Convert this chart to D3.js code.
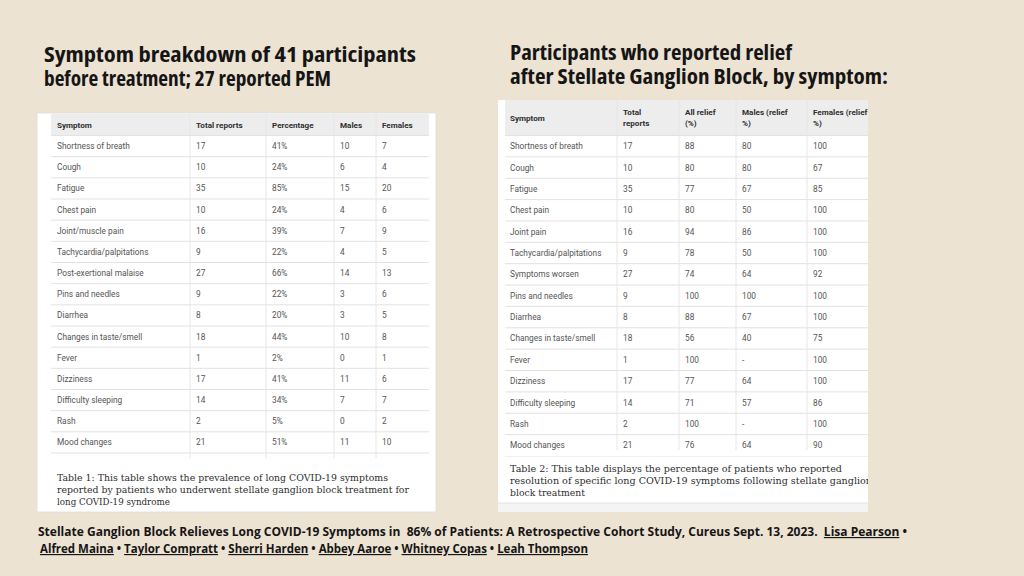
<!DOCTYPE html>
<html>
<head>
<meta charset="utf-8">
<script src="https://cdn.jsdelivr.net/npm/d3@7"></script>
<style>
  html, body { margin: 0; padding: 0; background: #ede3d3; }
  svg { display: block; }
  .cell { font-family: Roboto, "Noto Sans", sans-serif; font-size: 8.3px; fill: #555; }
  .head { font-family: Roboto, "Noto Sans", sans-serif; font-size: 8.1px; font-weight: 700; fill: #2e2e2e; }
  .caption { font-family: "DejaVu Serif", serif; font-size: 8.8px; fill: #2e2e2e; }
  .title { font-family: "Open Sans", sans-serif; font-stretch: 82%; font-weight: 700; font-size: 21px; fill: #151515; }
  .foot { font-family: "Open Sans", sans-serif; font-weight: 700; font-size: 11.6px; fill: #151515; }
</style>
</head>
<body>
<script>
// Table 1: symptoms before treatment
const symptoms1 = ['Shortness of breath', 'Cough', 'Fatigue', 'Chest pain', 'Joint/muscle pain',
  'Tachycardia/palpitations', 'Post-exertional malaise', 'Pins and needles', 'Diarrhea',
  'Changes in taste/smell', 'Fever', 'Dizziness', 'Difficulty sleeping', 'Rash', 'Mood changes'];
const totals1 = [17, 10, 35, 10, 16, 9, 27, 9, 8, 18, 1, 17, 14, 2, 21];
const percent1 = ['41%', '24%', '85%', '24%', '39%', '22%', '66%', '22%', '20%', '44%', '2%', '41%', '34%', '5%', '51%'];
const males1 = [10, 6, 15, 4, 7, 4, 14, 3, 3, 10, 0, 11, 7, 0, 11];
const females1 = [7, 4, 20, 6, 9, 5, 13, 6, 5, 8, 1, 6, 7, 2, 10];
const headers1 = [['Symptom'], ['Total reports'], ['Percentage'], ['Males'], ['Females']];

// Table 2: relief after stellate ganglion block
const symptoms2 = ['Shortness of breath', 'Cough', 'Fatigue', 'Chest pain', 'Joint pain',
  'Tachycardia/palpitations', 'Symptoms worsen', 'Pins and needles', 'Diarrhea',
  'Changes in taste/smell', 'Fever', 'Dizziness', 'Difficulty sleeping', 'Rash', 'Mood changes'];
const totals2 = [17, 10, 35, 10, 16, 9, 27, 9, 8, 18, 1, 17, 14, 2, 21];
const allRelief = [88, 80, 77, 80, 94, 78, 74, 100, 88, 56, 100, 77, 71, 100, 76];
const malesRelief = [80, 80, 67, 50, 86, 50, 64, 100, 67, 40, '-', 64, 57, '-', 64];
const femalesRelief = [100, 67, 85, 100, 100, 100, 92, 100, 100, 75, 100, 100, 86, 100, 90];
const headers2 = [['Symptom'], ['Total', 'reports'], ['All relief', '(%)'], ['Males (relief', '%)'], ['Females (relief', '%)']];

const title1 = ['Symptom breakdown of 41 participants', 'before treatment; 27 reported PEM'];
const title2 = ['Participants who reported relief', 'after Stellate Ganglion Block, by symptom:'];
const caption1 = ['Table 1: This table shows the prevalence of long COVID-19 symptoms',
  'reported by patients who underwent stellate ganglion block treatment for',
  'long COVID-19 syndrome'];
const caption2 = ['Table 2: This table displays the percentage of patients who reported',
  'resolution of specific long COVID-19 symptoms following stellate ganglion',
  'block treatment'];
const citation = 'Stellate Ganglion Block Relieves Long COVID-19 Symptoms in  86% of Patients: A Retrospective Cohort Study, Cureus Sept. 13, 2023.  ';
const authors = ['Lisa Pearson', 'Alfred Maina', 'Taylor Compratt', 'Sherri Harden', 'Abbey Aaroe', 'Whitney Copas', 'Leah Thompson'];

const width = 1024;
const height = 576;

const svg = d3.select('body').append('svg')
  .attr('width', width)
  .attr('height', height)
  .attr('viewBox', `0 0 ${width} ${height}`);

svg.append('rect').attr('width', width).attr('height', height).attr('fill', '#ede3d3');

// titles, fitted to the widths seen in the picture
function drawTitle(lines, x, y0, lens) {
  svg.append('g').selectAll('text')
    .data(lines)
    .join('text')
    .attr('class', 'title')
    .attr('x', x)
    .attr('y', (d, i) => y0 + i * 23.5)
    .attr('textLength', (d, i) => lens[i])
    .attr('lengthAdjust', 'spacingAndGlyphs')
    .text(d => d);
}
drawTitle(title1, 44, 62, [372, 287]);
drawTitle(title2, 510, 60, [282, 378]);

function drawTable(opt) {
  const { rowsData, headers, card, tableX, tableRight, headTop, headBottom, rowsBottom, lineBottom, colEdges, clipBottom, caption, captionY, captionLens, id } = opt;

  // card
  svg.append('rect')
    .attr('x', card.x).attr('y', card.y)
    .attr('width', card.w).attr('height', card.h)
    .attr('fill', '#ffffff')
    .attr('stroke', card.stroke)
    .attr('stroke-width', 0.8);

  svg.append('clipPath').attr('id', id)
    .append('rect')
    .attr('x', card.x).attr('y', card.y)
    .attr('width', card.w).attr('height', clipBottom - card.y);

  const g = svg.append('g').attr('clip-path', `url(#${id})`);

  const y = d3.scaleBand()
    .domain(d3.range(rowsData.length))
    .range([headBottom, rowsBottom]);

  const x = d3.scaleOrdinal()
    .domain(d3.range(headers.length))
    .range(colEdges);

  // header background
  g.append('rect')
    .attr('x', tableX).attr('y', headTop)
    .attr('width', tableRight - tableX).attr('height', headBottom - headTop)
    .attr('fill', '#ededed');

  // horizontal lines
  g.append('g').selectAll('line')
    .data(d3.range(rowsData.length + 1))
    .join('line')
    .attr('x1', tableX).attr('x2', tableRight)
    .attr('y1', d => d === rowsData.length ? y(d - 1) + y.bandwidth() : y(d))
    .attr('y2', d => d === rowsData.length ? y(d - 1) + y.bandwidth() : y(d))
    .attr('stroke', '#e2e2e2')
    .attr('stroke-width', 1);

  // vertical separators
  g.append('g').selectAll('line')
    .data(d3.range(1, headers.length))
    .join('line')
    .attr('x1', d => x(d)).attr('x2', d => x(d))
    .attr('y1', headTop).attr('y2', lineBottom)
    .attr('stroke', '#e6e6e6')
    .attr('stroke-width', 1);

  // header text
  const hy = (headTop + headBottom) / 2;
  headers.forEach((lines, ci) => {
    g.append('g').selectAll('text')
      .data(lines)
      .join('text')
      .attr('class', 'head')
      .attr('x', x(ci) + 6)
      .attr('y', (d, i) => hy + 3 + (i - (lines.length - 1) / 2) * 11)
      .text(d => d);
  });

  // body cells
  rowsData.forEach((row, ri) => {
    g.append('g').selectAll('text')
      .data(row)
      .join('text')
      .attr('class', 'cell')
      .attr('x', (d, ci) => x(ci) + 6)
      .attr('y', y(ri) + y.bandwidth() / 2 + 3)
      .text(d => d);
  });

  // caption
  g.append('g').selectAll('text')
    .data(caption)
    .join('text')
    .attr('class', 'caption')
    .attr('x', colEdges[0] + 6)
    .attr('y', (d, i) => captionY + i * 12.2)
    .attr('textLength', (d, i) => captionLens[i])
    .attr('lengthAdjust', 'spacingAndGlyphs')
    .text(d => d);

  return g;
}

drawTable({
  id: 'clip1',
  rowsData: symptoms1.map((s, i) => [s, totals1[i], percent1[i], males1[i], females1[i]]),
  headers: headers1,
  card: { x: 37, y: 113, w: 399, h: 399, stroke: '#dcdcdc' },
  tableX: 51, tableRight: 429,
  headTop: 114, headBottom: 135.5, rowsBottom: 453, lineBottom: 458,
  colEdges: [51, 190, 266, 334, 376],
  clipBottom: 512,
  caption: caption1, captionY: 481, captionLens: [331, 352, 113]
});

const g2 = drawTable({
  id: 'clip2',
  rowsData: symptoms2.map((s, i) => [s, totals2[i], allRelief[i], malesRelief[i], femalesRelief[i]]),
  headers: headers2,
  card: { x: 498, y: 100, w: 370, h: 412, stroke: 'none' },
  tableX: 505, tableRight: 900,
  headTop: 100, headBottom: 135.5, rowsBottom: 456, lineBottom: 450,
  colEdges: [504, 617, 679, 736, 807],
  clipBottom: 512,
  caption: caption2, captionY: 472, captionLens: [332, 362, 75]
});

// the screenshot cuts off the last row and the bottom of the second card
g2.append('rect').attr('x', 498).attr('y', 450).attr('width', 370).attr('height', 6).attr('fill', '#ffffff');
g2.append('rect').attr('x', 498).attr('y', 503).attr('width', 370).attr('height', 9).attr('fill', '#f4f4f4');
g2.append('line').attr('x1', 498).attr('x2', 868).attr('y1', 503).attr('y2', 503).attr('stroke', '#e2e2e2');

// citation footer
const foot1 = svg.append('text').attr('class', 'foot').attr('x', 38).attr('y', 536)
  .attr('xml:space', 'preserve')
  .attr('textLength', 869).attr('lengthAdjust', 'spacingAndGlyphs');
foot1.append('tspan').text(citation);
foot1.append('tspan').attr('text-decoration', 'underline').text(authors[0]);
foot1.append('tspan').text(' •');

const foot2 = svg.append('text').attr('class', 'foot').attr('x', 40).attr('y', 553)
  .attr('xml:space', 'preserve')
  .attr('textLength', 548).attr('lengthAdjust', 'spacingAndGlyphs');
authors.slice(1).forEach((a, i) => {
  if (i > 0) foot2.append('tspan').text(' • ');
  foot2.append('tspan').attr('text-decoration', 'underline').text(a);
});
</script>
</body>
</html>
